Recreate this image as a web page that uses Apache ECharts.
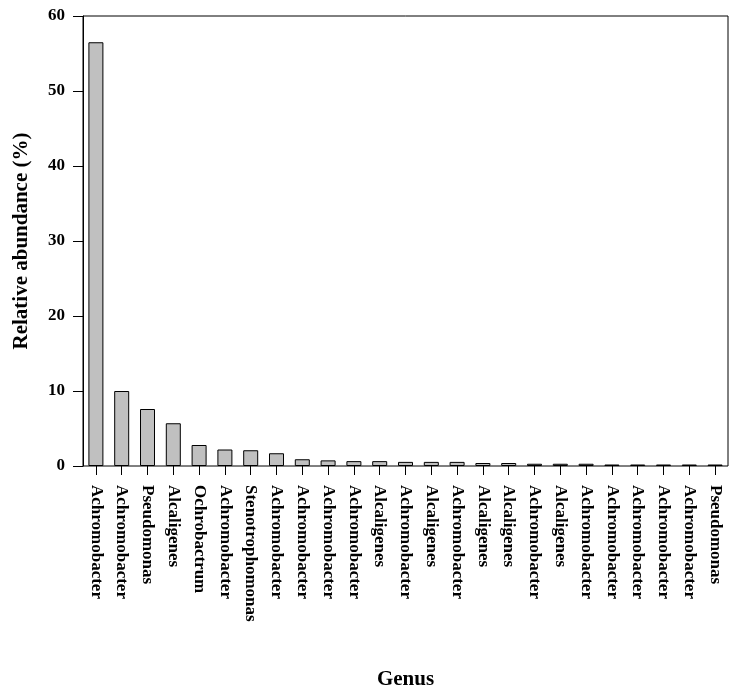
<!DOCTYPE html>
<html>
<head>
<meta charset="utf-8">
<script src="https://cdn.jsdelivr.net/npm/echarts@6/dist/echarts.min.js"></script>
<style>
html,body{margin:0;padding:0;background:#fff;}
#chart{width:737px;height:696px;}
</style>
</head>
<body>
<div id="chart"></div>
<script>
var categories = ["Achromobacter","Achromobacter","Pseudomonas","Alcaligenes","Ochrobactrum","Achromobacter","Stenotrophomonas","Achromobacter","Achromobacter","Achromobacter","Achromobacter","Alcaligenes","Achromobacter","Alcaligenes","Achromobacter","Alcaligenes","Alcaligenes","Achromobacter","Alcaligenes","Achromobacter","Achromobacter","Achromobacter","Achromobacter","Achromobacter","Pseudomonas"];
var abundance = [56.5,10.0,7.6,5.7,2.8,2.2,2.1,1.7,0.9,0.75,0.65,0.65,0.55,0.55,0.55,0.4,0.4,0.3,0.3,0.3,0.2,0.2,0.2,0.2,0.2];
var yTicks = [0,10,20,30,40,50,60];

var FONT = '"Liberation Serif","Times New Roman",serif';
var chart = echarts.init(document.getElementById('chart'));
chart.setOption({
  backgroundColor:'#fff',
  animation:false,
  grid:{left:83,right:9,top:16,bottom:230,show:true,borderColor:'#000',borderWidth:1,backgroundColor:'transparent'},
  xAxis:{
    type:'category',
    data:categories,
    offset:3,
    name:'Genus',
    nameLocation:'middle',
    nameGap:200,
    nameTextStyle:{fontFamily:FONT,fontWeight:'bold',fontSize:21,color:'#000'},
    axisLine:{show:false},
    axisTick:{show:true,length:9,alignWithLabel:true,lineStyle:{color:'#000',width:1}},
    axisLabel:{rotate:-90,interval:0,margin:16,fontFamily:FONT,fontWeight:'bold',fontSize:17,color:'#000'}
  },
  yAxis:{
    type:'value',
    min:yTicks[0],
    max:yTicks[yTicks.length-1],
    interval:10,
    name:'Relative abundance (%)',
    nameLocation:'middle',
    nameGap:51,
    nameTextStyle:{fontFamily:FONT,fontWeight:'bold',fontSize:21,color:'#000'},
    axisLine:{show:true,lineStyle:{color:'#000',width:1}},
    axisTick:{show:true,length:10,lineStyle:{color:'#000',width:1}},
    splitLine:{show:false},
    axisLabel:{margin:18,fontFamily:FONT,fontWeight:'bold',fontSize:17,color:'#000'}
  },
  series:[{
    type:'bar',
    data:abundance,
    barWidth:15,
    itemStyle:{color:'#c0c0c0',borderColor:'#000',borderWidth:1}
  }]
});
</script>
</body>
</html>
